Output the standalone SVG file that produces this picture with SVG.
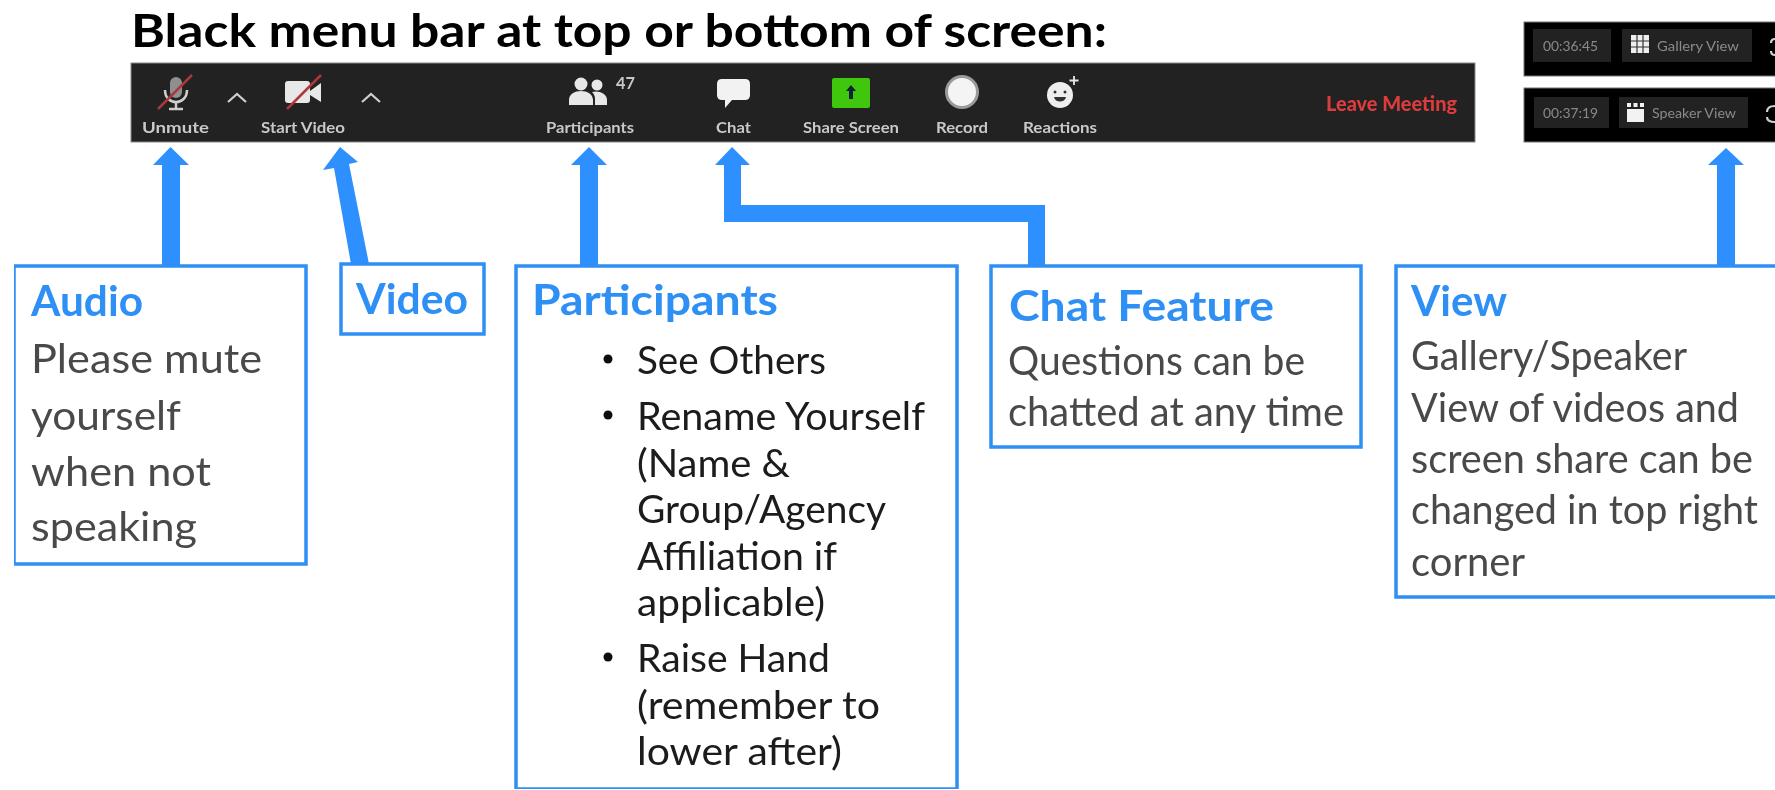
<svg xmlns="http://www.w3.org/2000/svg" width="1775" height="790" viewBox="0 0 1775 790">
<style>
text{font-family:Lato,"Liberation Sans",sans-serif}
.box{fill:#fff;stroke:#2f8ff5;stroke-width:3.500}
.h{font-size:42px;font-weight:700;fill:#2f8ff5}
.g{font-size:40px;fill:#4a4a4a}
.k{font-size:39px;fill:#1a1a1a}
.l{font-size:16px;font-weight:700;fill:#c9c9c9}
.v{font-size:14px;fill:#8a8a8a}
.a{fill:#2f8fff}
.i{fill:#e8e8e8}
.s{stroke:#a83a3a;stroke-width:2.500;fill:none}
.c{stroke:#cfcfcf;stroke-width:2.500;fill:none}
.f{stroke:#d0d0d0;stroke-width:2.200;fill:none}
.p{fill:#232323}
</style>
<defs><filter id="soft" x="0" y="0" width="100%" height="100%"><feGaussianBlur stdDeviation="0.600"/></filter></defs>
<rect width="1775" height="790" fill="#fff"/>
<g filter="url(#soft)">
<g id="connectors">
<polygon class="a" points="170.500,147 189,165 180,165 180,267 162,267 162,165 153,165"/>
<polygon class="a" points="340,147 358,162 349,164 369,264 351,264 334,168 323,170"/>
<polygon class="a" points="589,147 607,165 598,165 598,267 580,267 580,165 571,165"/>
<polygon class="a" points="732,147 750,165 741,165 741,205 1045,205 1045,267 1028,267 1028,222 724,222 724,165 715,165"/>
<polygon class="a" points="1726,148 1744,165 1735,165 1735,267 1717,267 1717,165 1708,165"/>
</g>
<g id="title"><text x="131" y="47" font-size="45" font-weight="700" fill="#000" textLength="976" lengthAdjust="spacingAndGlyphs">Black menu bar at top or bottom of screen:</text></g>
<g id="menu-bar">
<rect x="131" y="63" width="1344" height="79" fill="#202020" stroke="#8a8a8a" stroke-width="1"/>
<g id="btn-unmute">
<rect x="170" y="77" width="12" height="21" rx="6" fill="#8f8f8f"/>
<path d="M165 90c0 16 22 16 22 0M176 102v7M169 109h14" class="c"/>
<line class="s" x1="158" y1="109" x2="192" y2="75"/>
<text class="l" x="142" y="133" textLength="67" lengthAdjust="spacingAndGlyphs">Unmute</text>
<path d="M228 102l9-8 9 8" class="f"/>
</g>
<g id="btn-video">
<rect x="285" y="81" width="25" height="22" rx="3" class="i"/>
<polygon class="i" points="310,91 321,83 321,102 310,95"/>
<line class="s" x1="287" y1="109" x2="321" y2="75"/>
<text class="l" x="261" y="133" textLength="84" lengthAdjust="spacingAndGlyphs">Start Video</text>
<path d="M362 102l9-8 9 8" class="f"/>
</g>
<g id="btn-participants">
<circle class="i" cx="581" cy="84" r="6.500"/><circle class="i" cx="597" cy="85" r="5.500"/>
<path class="i" d="M569 105v-5c0-6 6-9 12-9s12 3 12 9v5zM595 105v-6c0-3-1-5-3-7 8-2 15 2 15 8v5z"/>
<text x="616" y="89" font-size="17" font-weight="700" fill="#c9c9c9" textLength="19" lengthAdjust="spacingAndGlyphs">47</text>
<text class="l" x="546" y="133" textLength="88" lengthAdjust="spacingAndGlyphs">Participants</text>
</g>
<g id="btn-chat">
<path fill="#f2f2f2" d="M722 79h23q5 0 5 5v11q0 5-5 5h-13l-7 8v-8h-3q-5 0-5-5V84q0-5 5-5z"/>
<text class="l" x="716" y="133" textLength="35" lengthAdjust="spacingAndGlyphs">Chat</text>
</g>
<g id="btn-share">
<rect x="832" y="78" width="38" height="30" rx="2" fill="#3fc60f"/>
<path d="M851 85l5 6h-3v8h-4v-8h-3z" fill="#123"/>
<text class="l" x="803" y="133" textLength="96" lengthAdjust="spacingAndGlyphs">Share Screen</text>
</g>
<g id="btn-record">
<circle cx="962" cy="92" r="15.500" fill="#f4f4f4" stroke="#9a9a9a" stroke-width="3"/>
<text class="l" x="936" y="133" textLength="52" lengthAdjust="spacingAndGlyphs">Record</text>
</g>
<g id="btn-reactions">
<circle cx="1060" cy="95" r="13" fill="#eee"/>
<path d="M1054 97c1 6 11 6 12 0z" fill="#333"/><circle cx="1055" cy="92" r="1.500" fill="#333"/><circle cx="1065" cy="92" r="1.500" fill="#333"/>
<path d="M1074 76v9M1069.500 80.500h9" stroke="#e8e8e8" stroke-width="1.800"/>
<text class="l" x="1023" y="133" textLength="74" lengthAdjust="spacingAndGlyphs">Reactions</text>
</g>
<g id="btn-leave"><text x="1326" y="111" font-size="20" font-weight="900" fill="#d93c3c" textLength="131" lengthAdjust="spacingAndGlyphs">Leave Meeting</text></g>
</g>
<g id="gallery-panel">
<rect x="1524" y="22" width="252" height="54" fill="#000" stroke="#777" stroke-width="1"/>
<rect x="1533" y="29" width="78" height="33" class="p"/>
<text class="v" x="1543" y="51" textLength="55" lengthAdjust="spacingAndGlyphs">00:36:45</text>
<rect x="1622" y="29" width="130" height="33" class="p"/>
<path d="M1631 35h18v18h-18z" fill="#eee"/>
<path d="M1637 35v18M1643 35v18M1631 41h18M1631 47h18" stroke="#333" stroke-width="1.200"/>
<text class="v" x="1657" y="51" textLength="82" lengthAdjust="spacingAndGlyphs">Gallery View</text>
<path class="f" d="M1775 39q-4 0-4 4M1775 55q-4 0-4-4"/>
</g>
<g id="speaker-panel">
<rect x="1524" y="88" width="252" height="54" fill="#000" stroke="#777" stroke-width="1"/>
<rect x="1534" y="97" width="75" height="31" class="p"/>
<text class="v" x="1543" y="118" textLength="55" lengthAdjust="spacingAndGlyphs">00:37:19</text>
<rect x="1619" y="97" width="129" height="31" class="p"/>
<rect x="1627" y="109" width="17" height="13" fill="#f2f2f2"/>
<path d="M1627 103h4v4h-4zM1633.500 103h4v4h-4zM1640 103h4v4h-4z" fill="#f2f2f2"/>
<text class="v" x="1652" y="118" textLength="84" lengthAdjust="spacingAndGlyphs">Speaker View</text>
<path class="f" d="M1775 106q-8 0-8 6M1775 122q-8 0-8-5"/>
</g>
<g id="audio">
<rect class="box" x="14" y="266" width="292" height="298"/>
<text class="h" x="31" y="316" textLength="112" lengthAdjust="spacingAndGlyphs">Audio</text>
<text class="g" x="31" y="373" textLength="231" lengthAdjust="spacingAndGlyphs">Please mute</text>
<text class="g" x="31" y="430" textLength="150" lengthAdjust="spacingAndGlyphs">yourself</text>
<text class="g" x="31" y="486" textLength="180" lengthAdjust="spacingAndGlyphs">when not</text>
<text class="g" x="31" y="541" textLength="166" lengthAdjust="spacingAndGlyphs">speaking</text>
</g>
<g id="video">
<rect class="box" x="341" y="264" width="143" height="70"/>
<text class="h" x="356" y="314" textLength="112" lengthAdjust="spacingAndGlyphs">Video</text>
</g>
<g id="participants">
<rect class="box" x="516" y="266" width="441" height="523"/>
<text class="h" x="532" y="315" textLength="246" lengthAdjust="spacingAndGlyphs">Participants</text>
<circle cx="608" cy="359" r="4.500" fill="#111"/><circle cx="608" cy="415" r="4.500" fill="#111"/><circle cx="608" cy="657" r="4.500" fill="#111"/>
<text class="k" x="637" y="374" textLength="189" lengthAdjust="spacingAndGlyphs">See Others</text>
<text class="k" x="637" y="430" textLength="288" lengthAdjust="spacingAndGlyphs">Rename Yourself</text>
<text class="k" x="637" y="477" textLength="153" lengthAdjust="spacingAndGlyphs">(Name &amp;</text>
<text class="k" x="637" y="523" textLength="249" lengthAdjust="spacingAndGlyphs">Group/Agency</text>
<text class="k" x="637" y="570" textLength="200" lengthAdjust="spacingAndGlyphs">Affiliation if</text>
<text class="k" x="637" y="616" textLength="188" lengthAdjust="spacingAndGlyphs">applicable)</text>
<text class="k" x="637" y="672" textLength="193" lengthAdjust="spacingAndGlyphs">Raise Hand</text>
<text class="k" x="637" y="719" textLength="243" lengthAdjust="spacingAndGlyphs">(remember to</text>
<text class="k" x="637" y="765" textLength="205" lengthAdjust="spacingAndGlyphs">lower after)</text>
</g>
<g id="chat-feature">
<rect class="box" x="991" y="266" width="370" height="181"/>
<text class="h" x="1009" y="321" textLength="265" lengthAdjust="spacingAndGlyphs">Chat Feature</text>
<text class="g" x="1008" y="375" textLength="297" lengthAdjust="spacingAndGlyphs">Questions can be</text>
<text class="g" x="1008" y="426" textLength="336" lengthAdjust="spacingAndGlyphs">chatted at any time</text>
</g>
<g id="view">
<rect class="box" x="1396" y="266" width="385" height="331"/>
<text class="h" x="1411" y="316" textLength="96" lengthAdjust="spacingAndGlyphs">View</text>
<text class="g" x="1411" y="370" textLength="276" lengthAdjust="spacingAndGlyphs">Gallery/Speaker</text>
<text class="g" x="1411" y="422" textLength="328" lengthAdjust="spacingAndGlyphs">View of videos and</text>
<text class="g" x="1411" y="473" textLength="342" lengthAdjust="spacingAndGlyphs">screen share can be</text>
<text class="g" x="1411" y="524" textLength="347" lengthAdjust="spacingAndGlyphs">changed in top right</text>
<text class="g" x="1411" y="576" textLength="114" lengthAdjust="spacingAndGlyphs">corner</text>
</g>
</g>
</svg>
